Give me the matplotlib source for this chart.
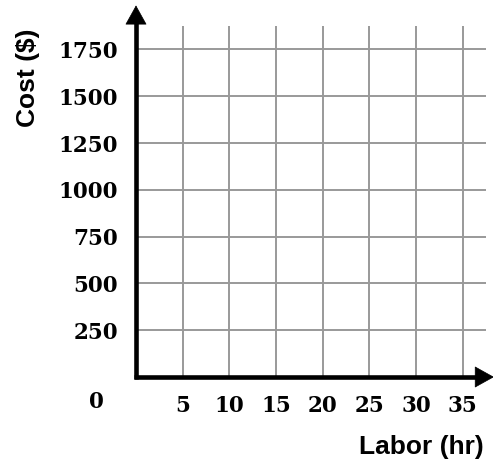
import matplotlib
matplotlib.use('Agg')
import matplotlib.pyplot as plt

# axis values
x_ticks = [5, 10, 15, 20, 25, 30, 35]
y_ticks = [250, 500, 750, 1000, 1250, 1500, 1750]
x_title = 'Labor (hr)'
y_title = 'Cost ($)'

fig = plt.figure(figsize=(4.93, 4.61), dpi=100)
ax = fig.add_axes([136 / 493, 84 / 461, 350 / 493, 351 / 461])
ax.set_xlim(0, 37.5)
ax.set_ylim(0, 1875)

# grid
for xv in x_ticks:
    ax.axvline(xv, color='#999999', lw=1.4, zorder=1)
for yv in y_ticks:
    ax.axhline(yv, color='#999999', lw=1.4, zorder=1)

for s in ax.spines.values():
    s.set_visible(False)

tick_font = dict(family='DejaVu Serif', weight='bold', size=15.5)
ax.set_xticks(x_ticks)
ax.set_xticklabels([str(v) for v in x_ticks], fontdict=tick_font)
ax.set_yticks(y_ticks)
ax.set_yticklabels([str(v) for v in y_ticks], fontdict=tick_font)
ax.tick_params(axis='x', length=0, pad=13)
ax.tick_params(axis='y', length=0, pad=13)
ax.text(-4.2, -134, '0', ha='center', va='center',
        fontfamily='DejaVu Serif', fontweight='bold', fontsize=15.5)

# axes with arrows
ax.plot([-0.25, 37.6], [0, 0], color='black', lw=3.3, solid_capstyle='butt', clip_on=False, zorder=5)
ax.plot([0, 0], [-12, 1900], color='black', lw=3.3, solid_capstyle='butt', clip_on=False, zorder=5)
arrow = dict(arrowstyle='-|>,head_length=0.9,head_width=0.5', lw=0.5, color='black',
             mutation_scale=14.4, shrinkA=0, shrinkB=0)
ax.annotate('', xy=(38.35, 0), xytext=(36.5, 0), arrowprops=arrow, annotation_clip=False, zorder=6)
ax.annotate('', xy=(0, 1985), xytext=(0, 1850), arrowprops=arrow, annotation_clip=False, zorder=6)

fig.text(421 / 493, 1 - 447 / 461, x_title, ha='center', va='center',
         fontfamily='Liberation Sans', fontweight='bold', fontsize=19)
fig.text(28 / 493, 1 - 78 / 461, y_title, ha='center', va='center', rotation=90,
         fontfamily='Liberation Sans', fontweight='bold', fontsize=19)

fig.savefig('out.png', dpi=100)
